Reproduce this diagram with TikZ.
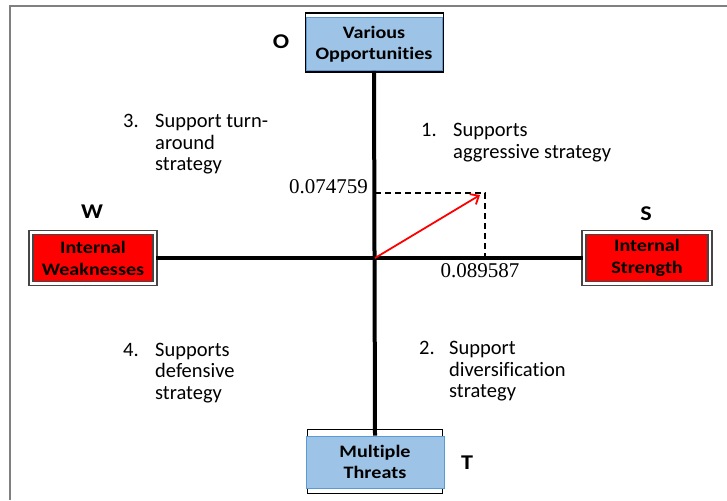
\documentclass[tikz,border=0pt]{standalone}
\usepackage{fontspec}
\setmainfont{Carlito}[Ligatures=NoCommon]
\newfontfamily\boxfont{Carlito}[Ligatures=NoCommon, FakeStretch=1.15]
\newfontfamily\numfont{Liberation Serif}
\usetikzlibrary{backgrounds, arrows.meta}

\definecolor{boxblue}{RGB}{157,195,230}
\definecolor{edgeblue}{RGB}{91,155,213}
\definecolor{framegray}{RGB}{70,70,70}

\tikzset{
  bluebox/.style={fill=boxblue, draw=edgeblue, line width=0.8, align=center,
    font=\boxfont\bfseries\fontsize{17.5}{21}\selectfont, inner sep=0},
  redbox/.style={fill=red, draw=framegray, line width=1.6, double=white,
    double distance=2.2, align=center, font=\boxfont\bfseries\fontsize{17.5}{22}\selectfont,
    inner sep=0},
  corner/.style={font=\boxfont\bfseries\fontsize{21}{21}\selectfont},
  quadtext/.style={anchor=north west, align=left, inner sep=0,
    font=\fontsize{20.5}{21.5}\selectfont},
  axis/.style={line width=4},
  value/.style={font=\numfont\fontsize{21}{21}\selectfont, inner sep=0}
}

\begin{document}
\begin{tikzpicture}[x=1pt, y=-1pt]
  \useasboundingbox (0,0) rectangle (727,500);
  % --- editable positions (picture units) ---
  \def\ox{375}    % x of the origin
  \def\oy{258}    % y of the origin
  \def\hw{32}     % hanging indent of the quadrant texts
  % outer frame (top and left edges only)
  \draw[gray, line width=1.5] (10,500) -- (10,6) -- (727,6);
  % the four boxes
  \node[bluebox, minimum width=136, minimum height=53] (opp) at (374,44) {Various\\Opportunities};
  \node[bluebox, minimum width=138, minimum height=52] (thr) at (375,462) {Multiple\\Threats};
  \node[redbox, minimum width=124, minimum height=51] (weak) at (93,\oy) {Internal\\Weaknesses};
  \node[redbox, minimum width=126, minimum height=51] (str) at (647,\oy) {Internal\\Strength};
  % black frames peeking out behind the blue boxes
  \begin{scope}[on background layer]
    \draw[line width=1.5] ([yshift=4]opp.north west) rectangle ([xshift=1,yshift=-1]opp.south east);
    \draw[line width=1.5] ([xshift=2,yshift=6]thr.north west) rectangle ([xshift=-2,yshift=-5]thr.south east);
  \end{scope}
  % letters at the boxes
  \node[corner] (o) at (281,42) {O};
  \node[corner] (w) at (92,212) {W};
  \node[corner] (s) at (646,214) {S};
  \node[corner] (t) at (467,463) {T};
  % axes
  \coordinate (orig) at (\ox,\oy);
  \draw[axis] (opp.south) -- (thr.north);
  \draw[axis] (weak.east) -- (str.west);
  % strategic position: projections and vector
  \coordinate (pos) at (485,193);
  \coordinate (tip) at (480,195);
  \draw[dashed, line width=1.6, dash pattern=on 6 off 4] (\ox,193) -- (pos) -- (pos |- orig);
  \draw[red, line width=1.8, -{Straight Barb[length=7, width=12]}] (orig) -- (tip);
  \node[value, anchor=east] (yv) at (368,187) {0.074759};
  \node[value] (xv) at (480,271) {0.089587};
  % quadrant descriptions
  \node[quadtext] (q3) at (123,114) {\makebox[\hw pt][l]{3.}Support turn-\\\hspace*{\hw pt}around\\\hspace*{\hw pt}strategy};
  \node[quadtext] (q1) at (421,123) {\makebox[\hw pt][l]{1.}Supports\\\hspace*{\hw pt}aggressive strategy};
  \node[quadtext] (q4) at (123,342.5) {\makebox[\hw pt][l]{4.}Supports\\\hspace*{\hw pt}defensive\\\hspace*{\hw pt}strategy};
  \node[quadtext] (q2) at (419,341) {\makebox[30pt][l]{2.}Support\\\hspace*{30pt}diversification\\\hspace*{30pt}strategy};
\end{tikzpicture}
\end{document}
